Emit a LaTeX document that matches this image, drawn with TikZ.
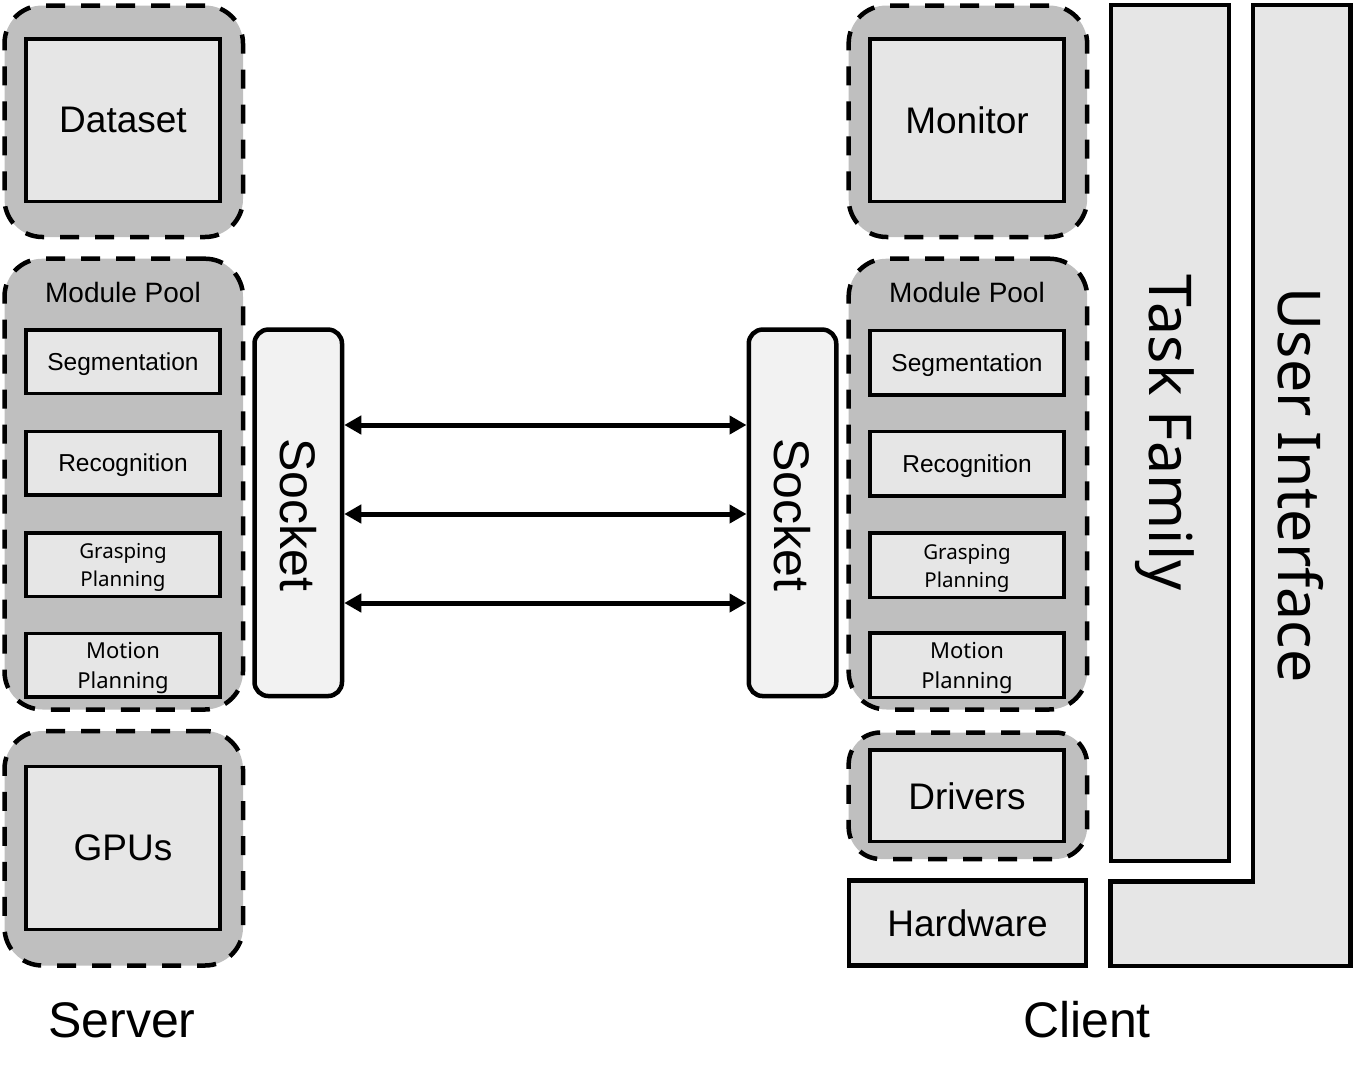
\documentclass[tikz,border=0pt]{standalone}
\usepackage{fontspec}
\setmainfont{Liberation Sans}
\newfontfamily\thinfont{Noto Sans}
\usetikzlibrary{arrows.meta}
\definecolor{outergray}{HTML}{BFBFBF}
\definecolor{innergray}{HTML}{E6E6E6}
\definecolor{sockgray}{HTML}{F2F2F2}
\begin{document}
\begin{tikzpicture}[x=1pt,y=-1pt,
  outerbox/.style={draw, line width=4.5pt, dash pattern=on 19pt off 16pt, rounded corners=38pt, fill=outergray, inner sep=0pt, minimum width=238.5pt},
  bigbox/.style={draw, line width=3.5pt, fill=innergray, inner sep=0pt, minimum width=194pt, minimum height=162.5pt, font=\fontsize{37}{44}\selectfont, text depth=0pt},
  modbox/.style={draw, line width=3.5pt, fill=innergray, inner sep=0pt, minimum width=194pt, minimum height=63.5pt, font=\fontsize{24.5}{29}\selectfont, text depth=0pt},
  gpfont/.style={font=\thinfont\fontsize{20.5}{28}\selectfont, align=center, text depth=0pt, inner sep=0pt},
  mpfont/.style={font=\thinfont\fontsize{22}{30}\selectfont, align=center, text depth=0pt, inner sep=0pt},
  titletext/.style={font=\fontsize{28}{34}\selectfont, text depth=0pt, inner sep=0pt},
  plainbox/.style={draw, line width=4.5pt, fill=innergray, inner sep=0pt},
  sockbox/.style={draw, line width=4.5pt, fill=sockgray, rounded corners=14pt, inner sep=0pt, minimum width=87.5pt, minimum height=366.5pt},
  socktext/.style={font=\fontsize{50}{60}\selectfont, rotate=-90, text depth=0pt, inner sep=0pt},
  rottext/.style={font=\thinfont\fontsize{59}{70}\selectfont, rotate=-90, text depth=0pt, inner sep=0pt},
  biarrow/.style={line width=5pt, {Triangle[length=17pt,width=18pt]}-{Triangle[length=17pt,width=18pt]}},
  sidelabel/.style={font=\fontsize{50}{60}\selectfont, anchor=base, inner sep=0pt}
]
\useasboundingbox (0,0) rectangle (1362,1076);

% ---------- Server side ----------
\node[outerbox, minimum height=231.5pt] (dsout) at (123.75,121.25) {};
\node[bigbox] (ds) at (123,120.25) {Dataset};

\node[outerbox, minimum height=450.8pt] (mpl) at (123.75,484.1) {};
\node[titletext] (mpltitle) at (123,292.8) {Module Pool};
\node[modbox] (segl) at (123,361.5) {Segmentation};
\node[modbox] (recl) at (123,463) {Recognition};
\node[modbox] (grl) at (123,564.5) {};
\node[gpfont] (grltext) at (123,565) {Grasping\\Planning};
\node[modbox] (mol) at (123,665) {};
\node[mpfont] (moltext) at (123,665.3) {Motion\\Planning};

\node[outerbox, minimum height=234.5pt] (gpuout) at (123.75,848.25) {};
\node[bigbox, minimum height=163pt] (gpu) at (123,848) {GPUs};

% ---------- Sockets ----------
\node[sockbox] (sl) at (298.25,512.8) {};
\node[socktext] (sltext) at (298.25,515) {Socket};
\node[sockbox] (sr) at (792.5,512.8) {};
\node[socktext] (srtext) at (792.5,515) {Socket};

\coordinate (y1) at (0,425);
\coordinate (y2) at (0,514);
\coordinate (y3) at (0,603);
\draw[biarrow] (sl.east |- y1) -- (sr.west |- y1);
\draw[biarrow] (sl.east |- y2) -- (sr.west |- y2);
\draw[biarrow] (sl.east |- y3) -- (sr.west |- y3);

% ---------- Client side ----------
\node[outerbox, minimum height=231.5pt] (monout) at (967.9,121.25) {};
\node[bigbox] (mon) at (967,120.25) {Monitor};

\node[outerbox, minimum height=450.8pt] (mpr) at (967.9,484.1) {};
\node[titletext] (mprtitle) at (967,292.8) {Module Pool};
\node[modbox, minimum height=64.5pt] (segr) at (967,362.7) {Segmentation};
\node[modbox, minimum height=64.5pt] (recr) at (967,463.7) {Recognition};
\node[modbox, minimum height=64.5pt] (grr) at (967,565) {};
\node[gpfont] (grrtext) at (967,565.5) {Grasping\\Planning};
\node[modbox, minimum height=64.5pt] (mor) at (967,665.2) {};
\node[mpfont] (mortext) at (967,665.5) {Motion\\Planning};

\node[outerbox, minimum height=126.5pt, rounded corners=32pt] (drvout) at (967.9,795.75) {};
\node[bigbox, minimum height=91.5pt] (drv) at (967,795.75) {Drivers};

\node[plainbox, minimum width=237pt, minimum height=85pt, font=\fontsize{37}{44}\selectfont, text depth=0pt] (hw) at (967.5,923) {Hardware};

\node[plainbox, minimum width=118pt, minimum height=856pt] (tf) at (1170,433) {};
\node[rottext] (tftext) at (1171.5,432.5) {Task Family};

\draw[line width=4.5pt, fill=innergray] (1110.5,966) -- (1110.5,881.5) -- (1253,881.5) -- (1253,5) -- (1350.5,5) -- (1350.5,966) -- cycle;
\node[rottext] (uitext) at (1301,485) {User Interface};

% ---------- Labels ----------
\node[sidelabel] (server) at (122,1037) {Server};
\node[sidelabel] (client) at (1087,1037) {Client};
\end{tikzpicture}
\end{document}
